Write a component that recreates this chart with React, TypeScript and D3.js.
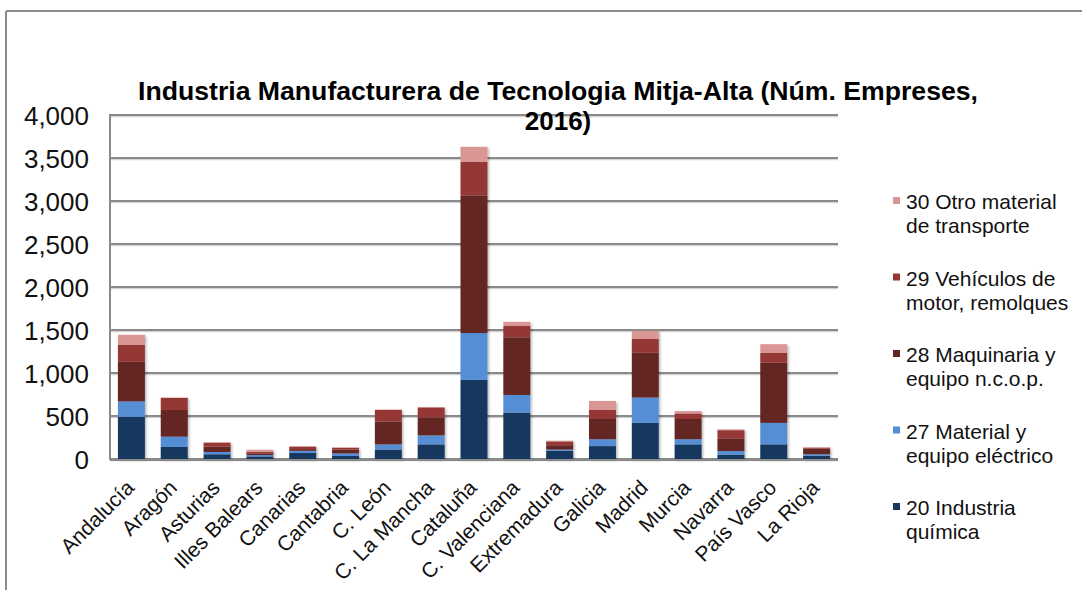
import React from "react";
import * as d3 from "d3";

const categories = ["Andalucía", "Aragón", "Asturias", "Illes Balears", "Canarias", "Cantabria", "C. León", "C. La Mancha", "Cataluña", "C. Valenciana", "Extremadura", "Galicia", "Madrid", "Murcia", "Navarra", "País Vasco", "La Rioja"];

const quimica = [490, 140, 55, 30, 70, 35, 110, 170, 920, 540, 95, 150, 420, 170, 50, 170, 38];
const electrico = [180, 120, 27, 15, 25, 30, 60, 105, 545, 205, 15, 80, 295, 60, 43, 250, 17];
const maquinaria = [460, 310, 62, 20, 20, 45, 265, 210, 1600, 670, 50, 235, 520, 235, 147, 700, 65];
const vehiculos = [200, 140, 45, 20, 25, 18, 135, 115, 390, 135, 45, 105, 160, 65, 95, 115, 12];
const otro = [115, 5, 8, 23, 10, 8, 5, 5, 175, 45, 8, 105, 95, 27, 10, 100, 5];

const seriesKeys = ["q", "e", "m", "v", "o"];
const seriesNames = [
  ["20 Industria", "química"],
  ["27 Material y", "equipo eléctrico"],
  ["28 Maquinaria y", "equipo n.c.o.p."],
  ["29 Vehículos de", "motor, remolques"],
  ["30 Otro material", "de transporte"],
];
const seriesColors = ["#17375E", "#558ED5", "#632523", "#953735", "#D99694"];
const yTicks = [0, 500, 1000, 1500, 2000, 2500, 3000, 3500, 4000];

const titleLine1 = "Industria Manufacturera de Tecnologia Mitja-Alta (Núm. Empreses,";
const titleLine2 = "2016)";

const FONT = "'Liberation Sans', Arial, Helvetica, sans-serif";

export default function App() {
  const W = 1082, H = 590;
  const left = 110, right = 838, top = 115, bottom = 459;

  const table = categories.map((c, i) => ({
    cat: c,
    q: quimica[i],
    e: electrico[i],
    m: maquinaria[i],
    v: vehiculos[i],
    o: otro[i],
  }));
  const stacked = d3.stack<any>().keys(seriesKeys)(table);

  const x = d3.scaleBand<string>().domain(categories).range([left, right]).paddingInner(0.37).paddingOuter(0.185);
  const y = d3.scaleLinear().domain([0, 4000]).range([bottom, top]);
  const fmt = d3.format(",");

  // legend order top-to-bottom: 30, 29, 28, 27, 20
  const legendOrder = [4, 3, 2, 1, 0];

  return (
    <div style={{ position: "absolute", left: 0, top: 0 }}>
      <svg width={W} height={H} style={{ display: "block", fontFamily: FONT }}>
        <defs>
          <filter id="sh" x="-20%" y="-20%" width="140%" height="140%">
            <feDropShadow dx="1.5" dy="1.5" stdDeviation="1.2" floodColor="#000" floodOpacity="0.28" />
          </filter>
        </defs>
        <rect x={0} y={0} width={W} height={H} fill="#fff" />
        {/* outer frame */}
        <line x1={6} y1={11} x2={W} y2={11} stroke="#8a8a8a" strokeWidth={2} />
        <line x1={6} y1={11} x2={6} y2={H} stroke="#8a8a8a" strokeWidth={2} />

        {/* gridlines */}
        {yTicks.map((t) => (
          <g key={t}>
            <line x1={left} x2={right} y1={y(t) + 1.5} y2={y(t) + 1.5} stroke="#d4d4d4" strokeWidth={1.5} />
            <line x1={left} x2={right} y1={y(t)} y2={y(t)} stroke="#8a8a8a" strokeWidth={2} />
            <text x={89} y={y(t) + 10} textAnchor="end" fontSize={26} fill="#111">
              {fmt(t)}
            </text>
          </g>
        ))}
        {/* y axis */}
        <line x1={left} x2={left} y1={top - 1} y2={bottom + 1} stroke="#8a8a8a" strokeWidth={2} />

        {/* bars */}
        <g filter="url(#sh)">
          {stacked.map((s, si) =>
            s.map((d, i) => (
              <rect
                key={si + "-" + i}
                x={x(categories[i])}
                y={y(d[1])}
                width={x.bandwidth()}
                height={Math.max(0, y(d[0]) - y(d[1]))}
                fill={seriesColors[si]}
              />
            ))
          )}
        </g>
        {/* baseline */}
        <line x1={left} x2={right} y1={bottom + 1} y2={bottom + 1} stroke="#8a8a8a" strokeWidth={2} />

        {/* x labels */}
        {categories.map((c) => (
          <text
            key={c}
            transform={`translate(${(x(c) as number) + x.bandwidth() / 2 + 4},${489}) rotate(-45)`}
            textAnchor="end"
            fontSize={21}
            fill="#111"
          >
            {c}
          </text>
        ))}

        {/* title */}
        <text x={558} y={100} textAnchor="middle" fontSize={26} fontWeight="bold" fill="#000" textLength={840} lengthAdjust="spacingAndGlyphs">
          {titleLine1}
        </text>
        <text x={558} y={130} textAnchor="middle" fontSize={26} fontWeight="bold" fill="#000">
          {titleLine2}
        </text>

        {/* legend */}
        {legendOrder.map((si, k) => {
          const by = 209 + k * 76.5;
          return (
            <g key={si}>
              <rect x={893} y={by - 12} width={7} height={7} fill={seriesColors[si]} />
              <text x={906} y={by} fontSize={21} fill="#111">
                {seriesNames[si][0]}
              </text>
              <text x={906} y={by + 24} fontSize={21} fill="#111">
                {seriesNames[si][1]}
              </text>
            </g>
          );
        })}
      </svg>
    </div>
  );
}
